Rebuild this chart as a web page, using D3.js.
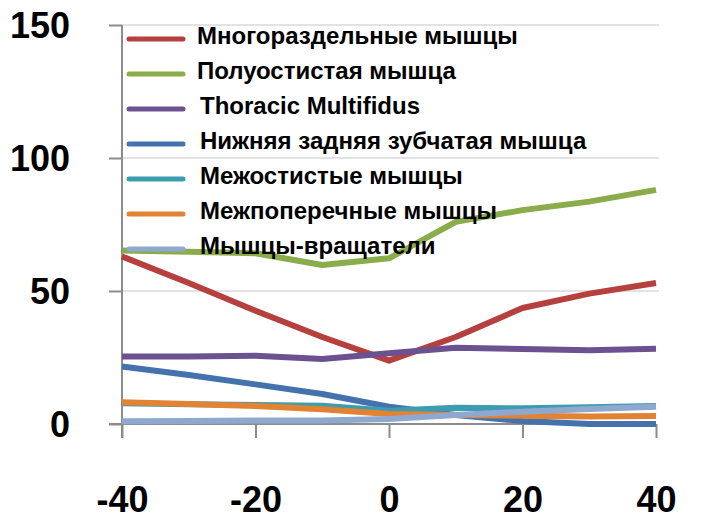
<!DOCTYPE html>
<html>
<head>
<meta charset="utf-8">
<script src="https://cdn.jsdelivr.net/npm/d3@7"></script>
<style>
  body { margin: 0; background: #fff; }
  text { font-family: "Liberation Sans", Arial, sans-serif; font-weight: bold; fill: #000; }
</style>
</head>
<body>
<div id="chart"></div>
<script>
// data
var xValues = [-40, -30, -20, -10, 0, 10, 20, 30, 40];
var seriesNames = [
  "Многораздельные мышцы",
  "Полуостистая мышца",
  "Thoracic Multifidus",
  "Нижняя задняя зубчатая мышца",
  "Межостистые мышцы",
  "Межпоперечные мышцы",
  "Мышцы-вращатели"
];
var multifidus   = [63, 53, 42.6, 32.7, 23.8, 32.7, 43.6, 49, 53];
var semispinalis = [65.2, 64.8, 64.2, 59.8, 62.3, 76, 80.4, 83.6, 88];
var thoracicMf   = [25.4, 25.4, 25.7, 24.4, 26.6, 28.7, 28.2, 27.7, 28.3];
var serratus     = [21.6, 18.4, 14.9, 11.3, 6.5, 3.4, 1.1, 0, 0];
var interspinal  = [7.8, 7.4, 7.1, 6.9, 5.0, 6.1, 5.9, 6.3, 6.8];
var intertrans   = [8.2, 7.5, 6.8, 5.5, 3.8, 3.4, 3.1, 2.8, 3.0];
var rotatores    = [1.0, 1.1, 1.3, 1.3, 1.9, 3.4, 4.6, 5.6, 6.5];
var seriesValues = [multifidus, semispinalis, thoracicMf, serratus, interspinal, intertrans, rotatores];
var colors = ["#b5403d", "#8aac4a", "#6c5190", "#4472ad", "#3c9cb0", "#e28233", "#8fa8d0"];
var xTicks = [-40, -20, 0, 20, 40];
var yTicks = [0, 50, 100, 150];

// specs
var width = 705;
var height = 519;

var svg = d3.select("#chart")
  .append("svg")
  .attr("width", width)
  .attr("height", height);

var xScale = d3.scaleLinear()
  .domain([-40, 40])
  .range([122, 656]);

var yScale = d3.scaleLinear()
  .domain([0, 150])
  .range([424, 25]);

// gridlines
svg.append("g")
  .selectAll("line")
  .data(yTicks.filter(function(d){ return d > 0; }))
  .enter()
  .append("line")
    .attr("x1", xScale(-40))
    .attr("x2", xScale(40) + 3)
    .attr("y1", function(d){ return yScale(d); })
    .attr("y2", function(d){ return yScale(d); })
    .attr("stroke", "#d9d9d9")
    .attr("stroke-width", 1.5);

// y axis
var yAxis = d3.axisLeft(yScale)
  .tickValues(yTicks)
  .tickFormat(function(d){ return String(d); })
  .tickSize(13)
  .tickPadding(39)
  .tickSizeOuter(0);

var gy = svg.append("g")
  .attr("transform", "translate(" + xScale(-40) + ",0)")
  .call(yAxis);
gy.select(".domain").remove();
gy.selectAll("line").attr("stroke", "#8c8c8c").attr("stroke-width", 2);
gy.selectAll("text")
  .attr("font-size", 36)
  .attr("dy", "0.36em");

// x axis
var xAxis = d3.axisBottom(xScale)
  .tickValues(xTicks)
  .tickFormat(function(d){ return String(d); })
  .tickSize(14)
  .tickPadding(48)
  .tickSizeOuter(0);

var gx = svg.append("g")
  .attr("transform", "translate(0," + yScale(0) + ")")
  .call(xAxis);
gx.select(".domain").remove();
gx.selectAll("line").attr("stroke", "#8c8c8c").attr("stroke-width", 2);
gx.selectAll("text")
  .attr("font-size", 36);

// axis lines
svg.append("line")
  .attr("x1", xScale(-40) - 13).attr("x2", xScale(40))
  .attr("y1", yScale(0)).attr("y2", yScale(0))
  .attr("stroke", "#8c8c8c").attr("stroke-width", 2);
svg.append("line")
  .attr("x1", xScale(-40)).attr("x2", xScale(-40))
  .attr("y1", yScale(150)).attr("y2", yScale(0) + 14)
  .attr("stroke", "#8c8c8c").attr("stroke-width", 2);

// series lines
var line = d3.line()
  .x(function(d, i){ return xScale(xValues[i]); })
  .y(function(d){ return yScale(d); });

svg.append("g")
  .selectAll("path")
  .data(seriesValues)
  .enter()
  .append("path")
    .attr("d", line)
    .attr("fill", "none")
    .attr("stroke", function(d, i){ return colors[i]; })
    .attr("stroke-width", 6)
    .attr("stroke-linejoin", "round");

// legend
var legend = svg.append("g")
  .selectAll("g")
  .data(seriesNames)
  .enter()
  .append("g")
    .attr("transform", function(d, i){ return "translate(129," + (39 + i * 35) + ")"; });

legend.append("line")
  .attr("x1", 0).attr("x2", 54)
  .attr("y1", 0).attr("y2", 0)
  .attr("stroke", function(d, i){ return colors[i]; })
  .attr("stroke-width", 5)
  .attr("stroke-linecap", "round");

legend.append("text")
  .attr("x", function(d, i){ return i < 2 ? 68 : 71; })
  .attr("y", 5)
  .attr("font-size", 24)
  .text(function(d){ return d; });
</script>
</body>
</html>
